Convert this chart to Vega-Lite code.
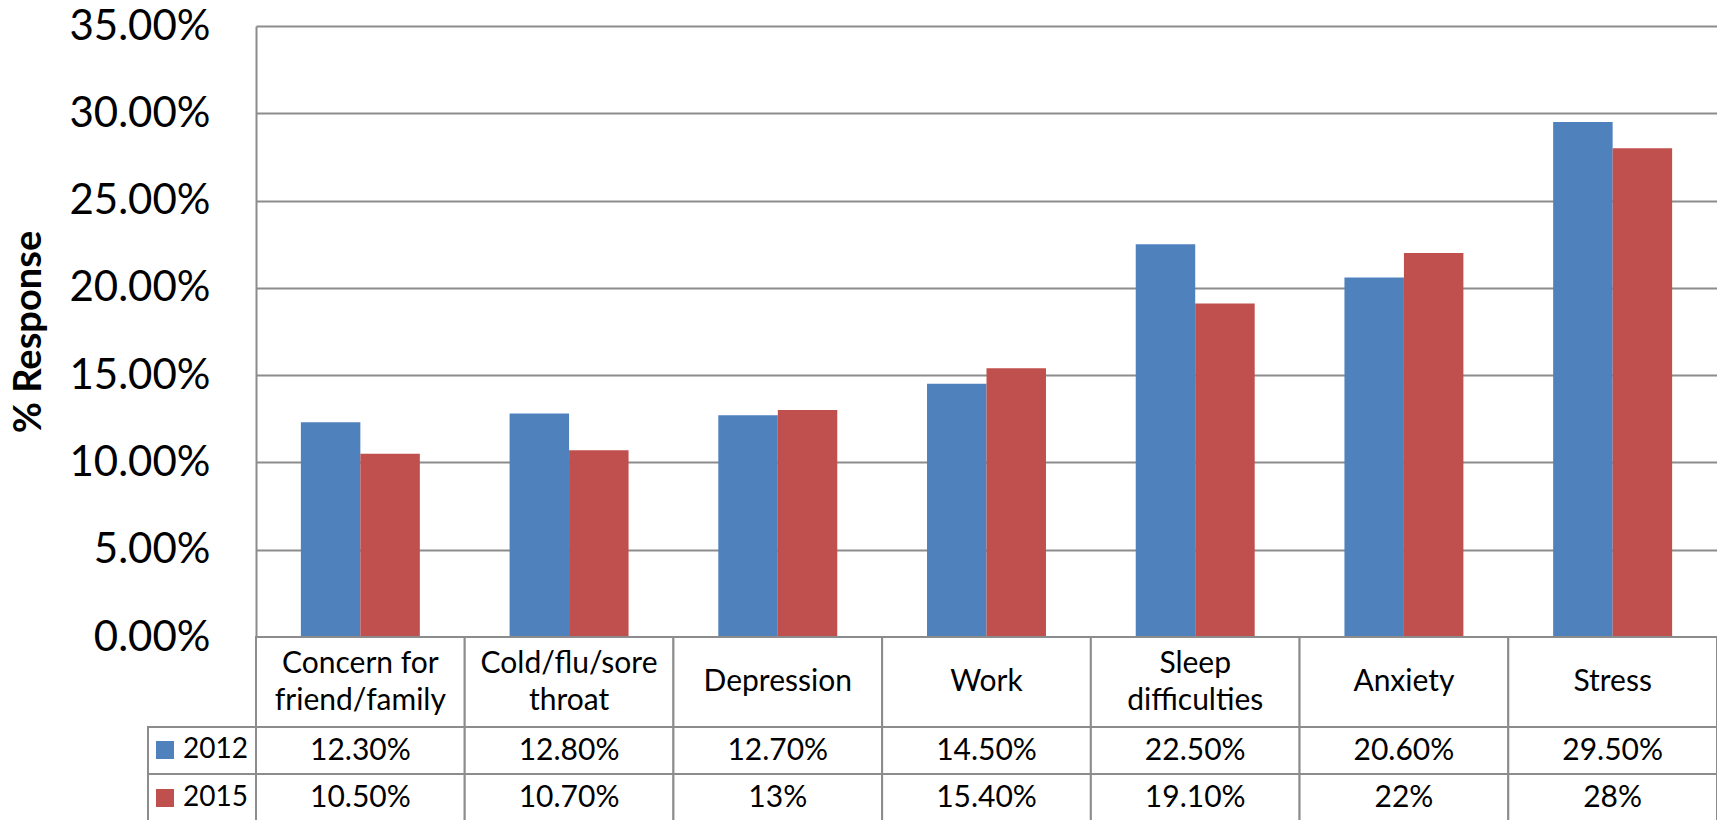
{
  "$schema": "https://vega.github.io/schema/vega-lite/v6.json",
  "padding": {"left": 10, "top": 5, "right": 3, "bottom": 0},
  "background": "white",
  "config": {"view": {"stroke": null}, "font": "Lato"},
  "datasets": {
    "survey": [
      {"category": "Concern for\nfriend/family", "year": "2012", "value": 0.123, "label": "12.30%"},
      {"category": "Concern for\nfriend/family", "year": "2015", "value": 0.105, "label": "10.50%"},
      {"category": "Cold/flu/sore\nthroat", "year": "2012", "value": 0.128, "label": "12.80%"},
      {"category": "Cold/flu/sore\nthroat", "year": "2015", "value": 0.107, "label": "10.70%"},
      {"category": "Depression", "year": "2012", "value": 0.127, "label": "12.70%"},
      {"category": "Depression", "year": "2015", "value": 0.13, "label": "13%"},
      {"category": "Work", "year": "2012", "value": 0.145, "label": "14.50%"},
      {"category": "Work", "year": "2015", "value": 0.154, "label": "15.40%"},
      {"category": "Sleep\ndifficulties", "year": "2012", "value": 0.225, "label": "22.50%"},
      {"category": "Sleep\ndifficulties", "year": "2015", "value": 0.191, "label": "19.10%"},
      {"category": "Anxiety", "year": "2012", "value": 0.206, "label": "20.60%"},
      {"category": "Anxiety", "year": "2015", "value": 0.22, "label": "22%"},
      {"category": "Stress", "year": "2012", "value": 0.295, "label": "29.50%"},
      {"category": "Stress", "year": "2015", "value": 0.28, "label": "28%"}
    ]
  },
  "data": {"name": "survey"},
  "columns": 2,
  "spacing": 0,
  "bounds": "flush",
  "concat": [
    {
      "width": 108, "height": 611,
      "mark": {"type": "point", "opacity": 0},
      "encoding": {}
    },
    {
      "width": 1461, "height": 611,
      "mark": {"type": "bar"},
      "encoding": {
        "x": {"field": "category", "type": "nominal", "sort": null, "axis": null,
              "scale": {"paddingInner": 0.43, "paddingOuter": 0.215}},
        "xOffset": {"field": "year", "type": "nominal", "sort": ["2012", "2015"]},
        "y": {"field": "value", "type": "quantitative",
              "scale": {"domain": [0, 0.35], "nice": false},
              "axis": {"title": "% Response", "format": ".2%",
                       "values": [0, 0.05, 0.1, 0.15, 0.2, 0.25, 0.3, 0.35],
                       "grid": true, "gridColor": "#8c8c8c", "gridWidth": 2,
                       "domainColor": "#8c8c8c", "domainWidth": 2,
                       "ticks": false, "tickSize": 0, "labelPadding": 46,
                       "labelFontSize": 42, "labelColor": "black", "labelFont": "Lato",
                       "titleFontSize": 38, "titleFontWeight": "bold", "titleColor": "black",
                       "titleFont": "Lato", "titlePadding": 20}},
        "color": {"field": "year", "type": "nominal",
                  "scale": {"domain": ["2012", "2015"], "range": ["#4F81BD", "#C0504D"]},
                  "legend": {"title": null, "orient": "none", "legendX": 3, "legendY": 710,
                             "symbolType": "square", "symbolSize": 324, "symbolStrokeWidth": 0,
                             "labelFontSize": 28, "labelFont": "Lato", "labelColor": "black",
                             "rowPadding": 20, "labelOffset": 4, "padding": 0, "direction": "vertical"}}
      }
    },
    {
      "width": 108, "height": 90,
      "mark": {"type": "point", "opacity": 0},
      "encoding": {}
    },
    {
      "width": 1461, "height": 90,
      "transform": [{"filter": "datum.year == '2012'"}],
      "layer": [
        {
          "mark": {"type": "rect", "fill": "white", "stroke": "#8c8c8c", "strokeWidth": 2},
          "encoding": {
            "x": {"field": "category", "type": "nominal", "sort": null, "axis": null,
                  "scale": {"paddingInner": 0, "paddingOuter": 0}}
          }
        },
        {
          "transform": [{"filter": "indexof(datum.category, '\\n') < 0"}],
          "mark": {"type": "text", "fontSize": 30, "color": "black"},
          "encoding": {
            "x": {"field": "category", "type": "nominal", "sort": null, "axis": null},
            "text": {"field": "category"}
          }
        },
        {
          "transform": [{"filter": "indexof(datum.category, '\\n') >= 0"}],
          "mark": {"type": "text", "fontSize": 30, "lineBreak": "\n", "lineHeight": 37, "dy": -18.5, "color": "black"},
          "encoding": {
            "x": {"field": "category", "type": "nominal", "sort": null, "axis": null},
            "text": {"field": "category"}
          }
        }
      ]
    },
    {
      "width": 108, "height": 94,
      "transform": [{"filter": "datum.category == 'Stress'"}],
      "mark": {"type": "rect", "fill": null, "stroke": "#8c8c8c", "strokeWidth": 2},
      "encoding": {
        "y": {"field": "year", "type": "nominal", "sort": ["2012", "2015"], "axis": null,
              "scale": {"paddingInner": 0, "paddingOuter": 0}}
      }
    },
    {
      "width": 1461, "height": 94,
      "layer": [
        {
          "mark": {"type": "rect", "fill": "white", "stroke": "#8c8c8c", "strokeWidth": 2},
          "encoding": {
            "x": {"field": "category", "type": "nominal", "sort": null, "axis": null,
                  "scale": {"paddingInner": 0, "paddingOuter": 0}},
            "y": {"field": "year", "type": "nominal", "sort": ["2012", "2015"], "axis": null,
                  "scale": {"paddingInner": 0, "paddingOuter": 0}}
          }
        },
        {
          "mark": {"type": "text", "fontSize": 30, "color": "black"},
          "encoding": {
            "x": {"field": "category", "type": "nominal", "sort": null, "axis": null},
            "y": {"field": "year", "type": "nominal", "sort": ["2012", "2015"], "axis": null},
            "text": {"field": "label"}
          }
        }
      ]
    }
  ]
}
